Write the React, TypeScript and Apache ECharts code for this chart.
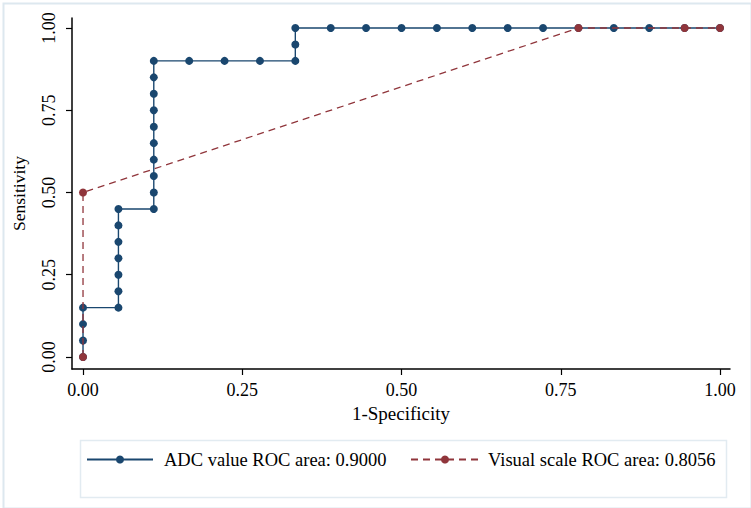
import React, { useEffect, useRef } from "react";
import * as echarts from "echarts";

// ADC value ROC curve (1-Specificity, Sensitivity)
const adcX = [0, 0, 0, 0, 0.0556, 0.0556, 0.0556, 0.0556, 0.0556, 0.0556, 0.0556, 0.1111, 0.1111, 0.1111, 0.1111, 0.1111, 0.1111, 0.1111, 0.1111, 0.1111, 0.1111, 0.1667, 0.2222, 0.2778, 0.3333, 0.3333, 0.3333, 0.3889, 0.4444, 0.5, 0.5556, 0.6111, 0.6667, 0.7222, 0.7778, 0.8333, 0.8889, 0.9444, 1.0];
const adcY = [0, 0.05, 0.1, 0.15, 0.15, 0.2, 0.25, 0.3, 0.35, 0.4, 0.45, 0.45, 0.5, 0.55, 0.6, 0.65, 0.7, 0.75, 0.8, 0.85, 0.9, 0.9, 0.9, 0.9, 0.9, 0.95, 1.0, 1.0, 1.0, 1.0, 1.0, 1.0, 1.0, 1.0, 1.0, 1.0, 1.0, 1.0, 1.0];

// Visual scale ROC curve
const visX = [0, 0, 0.7778, 0.9444, 1.0];
const visY = [0, 0.5, 1.0, 1.0, 1.0];

const tickValues = [0, 0.25, 0.5, 0.75, 1.0];
const seriesNames = ["ADC value ROC area: 0.9000", "Visual scale ROC area: 0.8056"];

const BLUE = "#1a476f";
const RED = "#90353b";
const FONT = "Liberation Serif";

export default function App() {
  const ref = useRef<HTMLDivElement>(null);
  useEffect(() => {
    if (!ref.current) return;
    const chart = echarts.init(ref.current, null, { renderer: "svg" });
    const adcData = adcX.map((x, i) => [x, adcY[i]]);
    const visData = visX.map((x, i) => [x, visY[i]]);
    const axisCommon = {
      type: "value" as const,
      splitLine: { show: false },
      axisLine: { show: true, onZero: false, lineStyle: { color: "#000", width: 1.5 } },
      axisTick: { show: true, length: 6, inside: false, customValues: tickValues, lineStyle: { color: "#000", width: 1.2 } },
      axisLabel: {
        customValues: tickValues,
        formatter: (v: number) => v.toFixed(2),
        color: "#000",
        fontFamily: FONT,
        fontSize: 18,
      },
      nameLocation: "middle" as const,
      nameTextStyle: { color: "#000", fontFamily: FONT, fontSize: 18 },
    };
    const legendText = { color: "#000", fontFamily: FONT, fontSize: 18.5 };
    chart.setOption({
      animation: false,
      backgroundColor: "#fff",
      grid: { left: 72, right: 21, top: 18, bottom: 139, containLabel: false },
      xAxis: {
        ...axisCommon,
        min: -0.0173,
        max: 1.0157,
        name: "1-Specificity",
        nameGap: 27,
        nameTextStyle: { ...axisCommon.nameTextStyle, fontSize: 19 },
        axisLabel: { ...axisCommon.axisLabel, margin: 12 },
      },
      yAxis: {
        ...axisCommon,
        min: -0.0365,
        max: 1.0304,
        name: "Sensitivity",
        nameGap: 44,
        nameTextStyle: { ...axisCommon.nameTextStyle, fontSize: 17.5 },
        axisLabel: { ...axisCommon.axisLabel, rotate: 90, margin: 14 },
      },
      legend: [
        {
          data: [seriesNames[0]],
          left: 86,
          top: 450,
          padding: 0,
          itemWidth: 66,
          itemHeight: 10,
          textStyle: { ...legendText, padding: [0, 0, 0, 6] },
        },
        {
          data: [seriesNames[1]],
          left: 410,
          top: 450,
          padding: 0,
          itemWidth: 68,
          itemHeight: 10,
          textStyle: { ...legendText, padding: [0, 0, 0, 4] },
        },
      ],
      graphic: [
        {
          type: "rect",
          left: 1,
          top: 1,
          shape: { width: 748, height: 505 },
          style: { fill: "none", stroke: "#dde8ef", lineWidth: 2 },
          silent: true,
        },
        {
          type: "rect",
          left: 78,
          top: 438,
          shape: { width: 646, height: 57 },
          style: { fill: "none", stroke: "#e2ebf1", lineWidth: 1.5 },
          silent: true,
        },
      ],
      series: [
        {
          name: seriesNames[0],
          type: "line",
          data: adcData,
          symbol: "circle",
          symbolSize: 8,
          showAllSymbol: true,
          itemStyle: { color: BLUE },
          lineStyle: { color: BLUE, width: 1.4 },
          z: 2,
        },
        {
          name: seriesNames[1],
          type: "line",
          data: visData,
          symbol: "circle",
          symbolSize: 8,
          showAllSymbol: true,
          itemStyle: { color: RED },
          lineStyle: { color: RED, width: 1.3, type: [7, 5] },
          z: 3,
        },
      ],
    });
    return () => chart.dispose();
  }, []);
  return <div ref={ref} style={{ position: "fixed", left: 0, top: 0, width: 751, height: 508 }} />;
}
